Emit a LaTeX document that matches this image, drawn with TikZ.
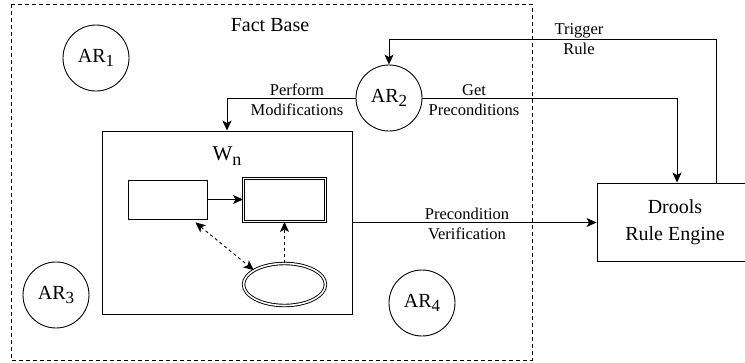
\documentclass[tikz,border=0pt]{standalone}
\usepackage{fontspec}
\setmainfont{Liberation Serif}
\usetikzlibrary{arrows.meta,shapes.geometric,positioning}

\newcommand{\agentname}[1]{AR\raisebox{-0.45ex}{\fontsize{17}{17}\selectfont #1}}

\begin{document}
\begin{tikzpicture}[x=1pt,y=-1pt,
	every node/.style={inner sep=0pt},
	agent/.style={draw, circle, minimum size=66pt, line width=0.9pt, font=\fontsize{20}{22}\selectfont},
	box/.style={draw, line width=0.9pt},
	twobox/.style={draw, line width=0.9pt, double, double distance=1.6pt},
	lbl/.style={align=center, font=\fontsize{16.5}{20}\selectfont},
	arr/.style={-{Stealth[length=10pt,width=9pt,inset=2.5pt]}, line width=0.9pt}]
	\useasboundingbox (0,0) rectangle (745,362);
	% fact base
	\draw [dashed, dash pattern=on 4pt off 3pt, line width=0.9pt] (11,4) rectangle (532,360);
	\node [font=\fontsize{20}{22}\selectfont] (fb) at (270,25) {Fact Base};
	% agents
	\node [agent] (ar1) at (96,58) {\agentname{1}};
	\node [agent] (ar2) at (389,98) {\agentname{2}};
	\node [agent] (ar3) at (56,295) {\agentname{3}};
	\node [agent] (ar4) at (422,303) {\agentname{4}};
	% working memory
	\node [box, minimum width=250pt, minimum height=183pt] (wn) at (227,222.5) {};
	\node [font=\fontsize{21}{22}\selectfont] (wnlbl) at (227,156) {W\raisebox{-0.45ex}{\fontsize{18}{18}\selectfont n}};
	\node [box, minimum width=79pt, minimum height=39pt] (r1) at (167.5,199.5) {};
	\node [twobox, minimum width=82pt, minimum height=43pt] (r2) at (284.5,200) {};
	\node [twobox, ellipse, minimum width=82pt, minimum height=42pt] (el) at (284.5,284.5) {};
	\draw [arr] (r1.east) -- (r1.east -| r2.west);
	\draw [arr, dashed, {Stealth[length=10pt,width=9pt,inset=2.5pt]}-{Stealth[length=10pt,width=9pt,inset=2.5pt]}] ([xshift=-12pt,yshift=-3pt]r1.south east) -- (el.155);
	\draw [arr, dashed] (el.north) -- (r2.south);
	% rule engine
	\node [box, minimum width=156pt, minimum height=78pt, align=center, font=\fontsize{20}{27}\selectfont] (dre) at (675,222) {Drools\\Rule Engine};
	\coordinate (trig) at (716,39);
	% connectors
	\draw [arr] (ar2) -| (wn);
	\node [lbl] (pm) at (297,100) {Perform\\Modifications};
	\draw [arr] (ar2) -| ([xshift=2pt]dre.north);
	\node [lbl] (gp) at (474,100) {Get\\Preconditions};
	\draw [arr] (trig |- dre.north) -- (trig) -| (ar2);
	\node [lbl] (tr) at (579,39) {Trigger\\Rule};
	\draw [arr] (wn.east) -- (wn.east -| dre.west);
	\node [lbl] (pv) at (467,224) {Precondition\\Verification};
\end{tikzpicture}
\end{document}
